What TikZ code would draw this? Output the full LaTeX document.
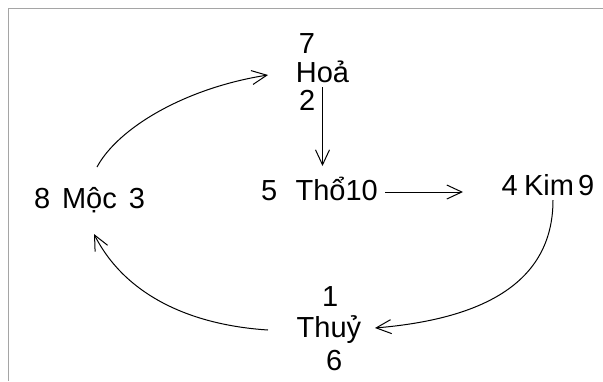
\documentclass[tikz,border=0pt]{standalone}
\usepackage{fontspec}
\setmainfont{Liberation Sans}
\usetikzlibrary{arrows.meta}
\definecolor{framegray}{RGB}{165,165,165}
\tikzset{
  lbl/.style={inner sep=0pt, anchor=base west, font=\fontsize{29}{32}\selectfont},
  conn/.style={line width=1pt, -{Straight Barb[length=15pt,width=14pt,line width=1pt]}},
  frameline/.style={line width=1.6pt, framegray}
}
\begin{document}
\begin{tikzpicture}[x=1pt,y=-1pt]
\useasboundingbox (0,0) rectangle (603,381);
\fill[white] (0,0) rectangle (603,381);
% frame
\coordinate (fTR) at (603,8.5);
\coordinate (fTL) at (8.5,8.5);
\coordinate (fBL) at (8.5,381);
\draw[frameline] (fTR) -- (fTL) -- (fBL);
% texts
\node[lbl] (n7) at (298.6,53) {7};
\node[lbl] (hoa) at (295.7,82) {Hoả};
\node[lbl] (n2) at (299,110) {2};
\node[lbl] (tho) at (261,200) {5\hspace{18.3pt}Thổ10};
\node[lbl] (kim) at (501.5,195) {4\hspace{6.3pt}Kim\hspace{4.1pt}9};
\node[lbl] (moc) at (34,208.5) {8\hspace{11.7pt}Mộc\hspace{12pt}3};
\node[lbl] (n1) at (321.8,306) {1};
\node[lbl] (thuy) at (296.5,337) {Thuỷ};
\node[lbl] (n6) at (326,370) {6};
% connector ends
\coordinate (hoaS) at (322.5,87);
\coordinate (thoN) at (322.5,166);
\coordinate (thoE) at (385,192);
\coordinate (kimW) at (463,192);
\coordinate (kimS) at (553,200);
\coordinate (thuyE) at (375,328);
\coordinate (thuyW) at (268,330);
\coordinate (mocS) at (94,234);
\coordinate (mocN) at (97,167);
\coordinate (hoaW) at (268,75);
% connectors
\draw[conn] (hoaS) -- (thoN);
\draw[conn] (thoE) -- (kimW);
\draw[conn] (kimS) .. controls (553,290) and (470,320) .. (thuyE);
\draw[conn] (thuyW) .. controls (190,325) and (125,295) .. (mocS);
\draw[conn] (mocN) .. controls (118,128) and (185,88) .. (hoaW);
\end{tikzpicture}
\end{document}
